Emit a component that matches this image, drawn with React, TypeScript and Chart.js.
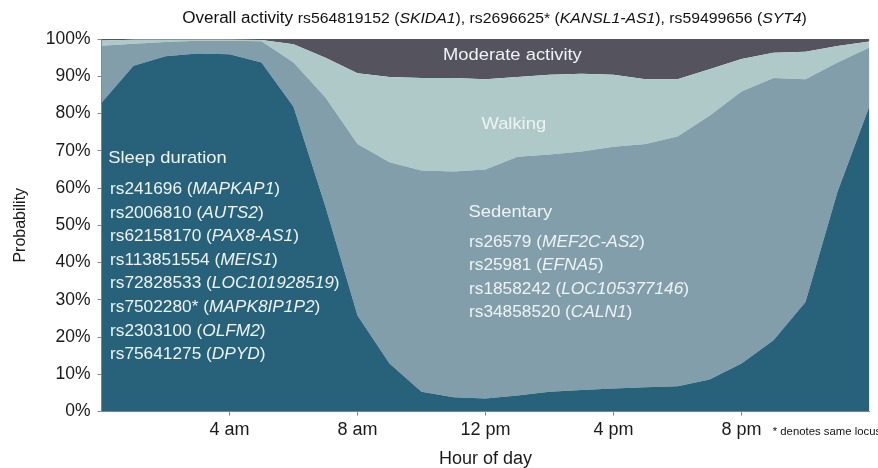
import React, { useEffect, useRef } from "react";
import { Chart, registerables } from "chart.js";

Chart.register(...registerables);

// ---- data (probability, %) ----
const hours = [0, 1, 2, 3, 4, 5, 6, 7, 8, 9, 10, 11, 12, 13, 14, 15, 16, 17, 18, 19, 20, 21, 22, 23, 24];
const sleep = [82.9, 92.8, 95.4, 96.1, 95.9, 93.7, 81.8, 55.0, 25.8, 12.9, 5.3, 3.8, 3.5, 4.3, 5.3, 5.8, 6.2, 6.5, 6.8, 8.6, 12.9, 19.1, 29.4, 59.0, 82.0];
const sedentary = [15.3, 5.9, 3.8, 3.4, 3.6, 5.7, 11.9, 29.3, 46.0, 54.0, 59.4, 60.6, 61.5, 64.1, 63.7, 64.0, 64.9, 65.3, 67.0, 70.8, 73.0, 70.4, 59.8, 34.7, 15.7];
const walking = [1.4, 1.1, 0.6, 0.3, 0.3, 0.3, 4.9, 10.7, 19.0, 22.9, 24.8, 25.1, 24.2, 21.4, 21.4, 20.9, 19.3, 17.4, 15.4, 12.5, 8.7, 6.8, 7.4, 4.4, 1.6];
const moderate = [0.4, 0.2, 0.2, 0.2, 0.2, 0.3, 1.4, 5.0, 9.2, 10.2, 10.5, 10.5, 10.8, 10.2, 9.6, 9.3, 9.6, 10.8, 10.8, 8.1, 5.4, 3.7, 3.4, 1.9, 0.7];

const xTickValues = [4, 8, 12, 16, 20];
const xTickLabels = ["4 am", "8 am", "12 pm", "4 pm", "8 pm"];

const seriesNames = ["Sleep duration", "Sedentary", "Walking", "Moderate activity"];
const seriesColors = ["#27627a", "#829eab", "#afc9c8", "#55545e"];

const sleepLoci = [
  ["rs241696", "MAPKAP1"],
  ["rs2006810", "AUTS2"],
  ["rs62158170", "PAX8-AS1"],
  ["rs113851554", "MEIS1"],
  ["rs72828533", "LOC101928519"],
  ["rs7502280*", "MAPK8IP1P2"],
  ["rs2303100", "OLFM2"],
  ["rs75641275", "DPYD"],
];
const sedentaryLoci = [
  ["rs26579", "MEF2C-AS2"],
  ["rs25981", "EFNA5"],
  ["rs1858242", "LOC105377146"],
  ["rs34858520", "CALN1"],
];
const titleLoci = [
  ["rs564819152", "SKIDA1"],
  ["rs2696625*", "KANSL1-AS1"],
  ["rs59499656", "SYT4"],
];

const FONT = '"Liberation Sans", Arial, Helvetica, sans-serif';
const SX = 1.08;

type Seg = { t: string; s: number; i?: boolean };

function drawRich(ctx: CanvasRenderingContext2D, segs: Seg[], x: number, y: number, align: "left" | "center", color: string) {
  ctx.save();
  ctx.fillStyle = color;
  ctx.textBaseline = "alphabetic";
  ctx.textAlign = "left";
  const widths = segs.map((sg) => {
    ctx.font = `${sg.i ? "italic " : ""}${sg.s}px ${FONT}`;
    return ctx.measureText(sg.t).width;
  });
  const total = widths.reduce((a, b) => a + b, 0);
  ctx.translate(align === "center" ? x - (total * SX) / 2 : x, y);
  ctx.scale(SX, 1);
  let cx = 0;
  segs.forEach((sg, k) => {
    ctx.font = `${sg.i ? "italic " : ""}${sg.s}px ${FONT}`;
    ctx.fillText(sg.t, cx, 0);
    cx += widths[k];
  });
  ctx.restore();
}

function locusSegs(id: string, gene: string, s: number): Seg[] {
  return [
    { t: `${id} (`, s },
    { t: gene, s, i: true },
    { t: ")", s },
  ];
}

const textPlugin = {
  id: "annotText",
  afterDraw(chart: any) {
    const ctx: CanvasRenderingContext2D = chart.ctx;
    const inner = "#eef3f5";
    // Title
    const tSegs: Seg[] = [{ t: "Overall activity ", s: 15.8 }];
    titleLoci.forEach(([id, g], k) => {
      tSegs.push({ t: `${id} (`, s: 14.6 });
      tSegs.push({ t: g, s: 14.6, i: true });
      tSegs.push({ t: k < titleLoci.length - 1 ? "), " : ")", s: 14.6 });
    });
    drawRich(ctx, tSegs, 494.5, 23, "center", "#111");

    drawRich(ctx, [{ t: seriesNames[3], s: 17 }], 443, 59.5, "left", inner);
    drawRich(ctx, [{ t: seriesNames[2], s: 17 }], 481.5, 129, "left", inner);
    drawRich(ctx, [{ t: seriesNames[1], s: 17 }], 468.5, 216.5, "left", inner);
    drawRich(ctx, [{ t: seriesNames[0], s: 17 }], 108.3, 163, "left", inner);

    sleepLoci.forEach(([id, g], k) => {
      drawRich(ctx, locusSegs(id, g, 16), 110, 194 + k * 23.6, "left", inner);
    });
    sedentaryLoci.forEach(([id, g], k) => {
      drawRich(ctx, locusSegs(id, g, 16), 469, 246.8 + k * 23.5, "left", inner);
    });

    drawRich(ctx, [{ t: "* denotes same locus", s: 10.5 }], 772.7, 434.5, "left", "#111");
  },
};

export default function App() {
  const ref = useRef<HTMLCanvasElement | null>(null);

  useEffect(() => {
    if (!ref.current) return;
    const mk = (vals: number[]) => hours.map((h, i) => ({ x: h, y: vals[i] }));
    const all = [sleep, sedentary, walking, moderate];
    const chart = new Chart(ref.current, {
      type: "line",
      data: {
        datasets: all.map((vals, k) => ({
          label: seriesNames[k],
          data: mk(vals),
          backgroundColor: seriesColors[k],
          borderColor: seriesColors[k],
          borderWidth: 0,
          pointRadius: 0,
          tension: 0,
          fill: k === 0 ? "origin" : "-1",
        })),
      },
      options: {
        animation: false,
        responsive: false,
        maintainAspectRatio: false,
        layout: { padding: { left: 0, top: 39, right: 8.5, bottom: 0 } },
        plugins: { legend: { display: false }, tooltip: { enabled: false }, title: { display: false } },
        scales: {
          x: {
            type: "linear",
            min: 0,
            max: 24,
            z: 1,
            afterBuildTicks: (s: any) => {
              s.ticks = xTickValues.map((v) => ({ value: v }));
            },
            afterFit: (s: any) => {
              s.height = 56.5;
            },
            ticks: {
              autoSkip: false,
              maxRotation: 0,
              padding: 4,
              color: "#1a1a1a",
              font: { family: FONT, size: 18 },
              callback: (v: any) => {
                const i = xTickValues.indexOf(Number(v));
                return i >= 0 ? xTickLabels[i] : "";
              },
            },
            grid: { drawOnChartArea: false, drawTicks: true, tickLength: 4, color: "#888" },
            border: { display: true, color: "#888", width: 1 },
            title: {
              display: true,
              text: "Hour of day",
              color: "#1a1a1a",
              font: { family: FONT, size: 18 },
              padding: { top: 0, bottom: -2 },
            },
          },
          y: {
            stacked: true,
            min: 0,
            max: 100,
            z: 1,
            afterFit: (s: any) => {
              s.width = 101.5;
            },
            ticks: {
              stepSize: 10,
              padding: 7,
              color: "#1a1a1a",
              font: { family: FONT, size: 17.5 },
              callback: (v: any) => `${v}%`,
            },
            grid: { drawOnChartArea: false, drawTicks: true, tickLength: 4, color: "#888" },
            border: { display: true, color: "#888", width: 1 },
            title: {
              display: true,
              text: "Probability",
              color: "#1a1a1a",
              font: { family: FONT, size: 16 },
              padding: { top: 11, bottom: 0 },
            },
          },
        },
      },
      plugins: [textPlugin],
    } as any);
    return () => chart.destroy();
  }, []);

  return (
    <div style={{ position: "absolute", left: 0, top: 0, width: 878, height: 468, background: "#fff" }}>
      <canvas ref={ref} width={878} height={468} style={{ display: "block", width: 878, height: 468 }} />
    </div>
  );
}
